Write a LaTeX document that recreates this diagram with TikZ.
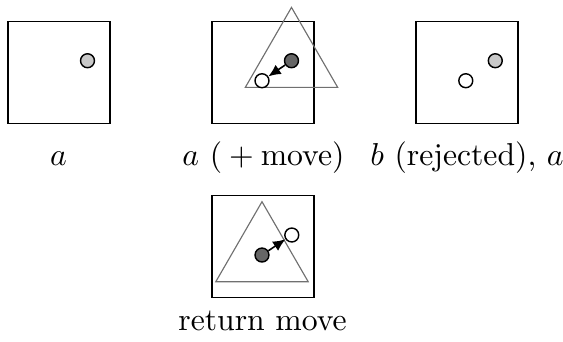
\documentclass[tikz,border=0pt]{standalone}
\usetikzlibrary{arrows.meta}
\definecolor{ptgray}{gray}{0.79}
\definecolor{ptdark}{gray}{0.40}
\definecolor{trigray}{gray}{0.44}
\begin{document}
\begin{tikzpicture}[x=0.3155pt,y=-0.3155pt,
  frame/.style={draw=black,line width=0.45pt,minimum size=32.18pt,inner sep=0pt,anchor=north west},
  pt/.style={circle,draw=black,line width=0.45pt,minimum size=4.4pt,inner sep=0pt},
  gpt/.style={pt,fill=ptgray},
  dpt/.style={pt,fill=ptdark},
  wpt/.style={pt,fill=white},
  tri/.style={draw=trigray,line width=0.36pt},
  mv/.style={-{Latex[length=3.9pt,width=3.5pt]},line width=0.5pt,black},
  lbl/.style={anchor=base,inner sep=0pt}
]
\useasboundingbox (0,0) rectangle (563,341);
% frames
\node[frame] (b1) at (7.5,20.7) {};
\node[frame] (b2) at (211.5,20.7) {};
\node[frame] (b3) at (415.3,20.7) {};
\node[frame] (b4) at (211.5,195) {};
% positions of points
\coordinate (cg1) at (87.5,60.7);
\coordinate (cd2) at (291.5,60.7);
\coordinate (cw2) at (262.0,80.7);
\coordinate (cg3) at (495.3,60.7);
\coordinate (cw3) at (465.8,80.7);
\coordinate (cd4) at (262.0,255);
\coordinate (cw4) at (291.8,235);
% triangles centred on the current point
\draw[tri] ([shift={(0,-53.3)}]cd2) -- ([shift={(-46.2,26.7)}]cd2) -- ([shift={(46.2,26.7)}]cd2) -- cycle;
\draw[tri] ([shift={(0,-53.3)}]cd4) -- ([shift={(-46.2,26.7)}]cd4) -- ([shift={(46.2,26.7)}]cd4) -- cycle;
% points
\node[gpt] (g1) at (cg1) {};
\node[dpt] (d2) at (cd2) {};
\node[wpt] (w2) at (cw2) {};
\node[gpt] (g3) at (cg3) {};
\node[wpt] (w3) at (cw3) {};
\node[dpt] (d4) at (cd4) {};
\node[wpt] (w4) at (cw4) {};
% moves
\draw[mv] (d2) -- (w2);
\draw[mv] (d4) -- (w4);
% labels
\node[lbl] (l1) at (58.5,165.6) {$a$};
\node[lbl] (l2) at (263.5,165.6) {$a$ $({}+\mathrm{move})$};
\node[lbl] (l3) at (467,165.6) {$b$ (rejected), $a$};
\node[lbl] (l4) at (262.5,330) {return move};
\end{tikzpicture}
\end{document}
